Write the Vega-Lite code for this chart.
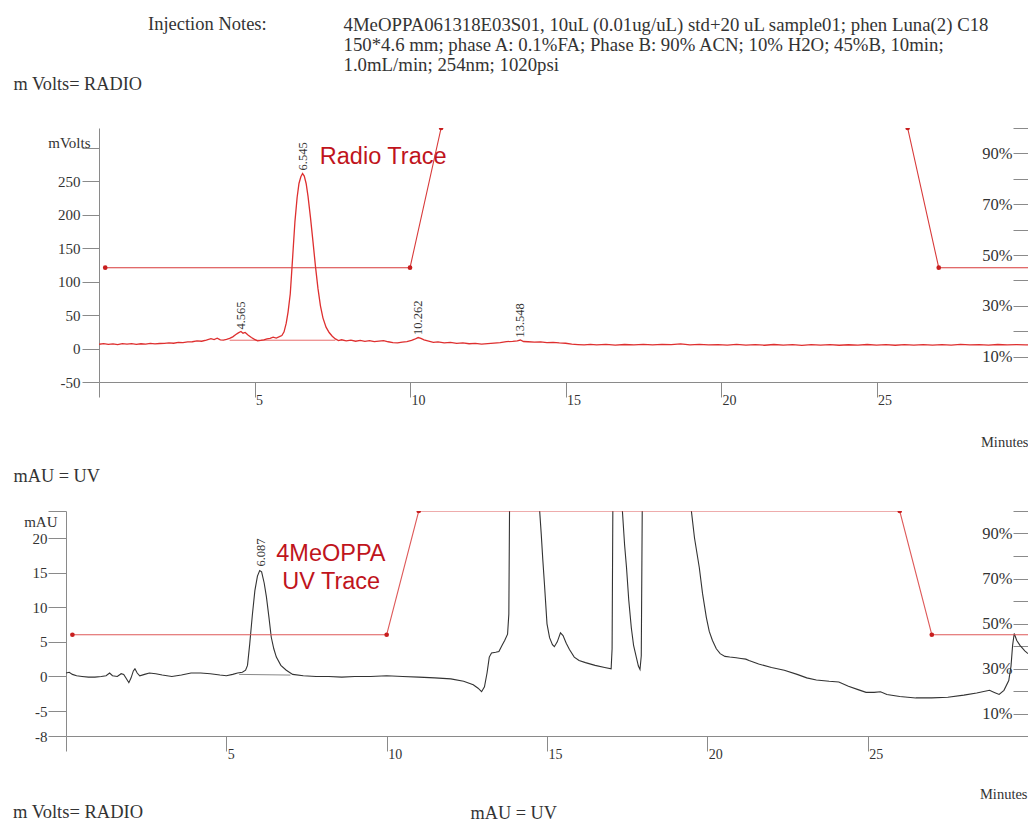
{
  "$schema": "https://vega.github.io/schema/vega-lite/v6.json",
  "padding": {"left": 13, "top": 14, "right": 0, "bottom": 0},
  "background": "white",
  "spacing": 17,
  "config": {
    "view": {"stroke": null},
    "font": "Liberation Serif",
    "axis": {
      "grid": false,
      "domainColor": "#8a8a8a",
      "tickColor": "#8a8a8a",
      "labelColor": "#333333",
      "labelFont": "Liberation Serif",
      "labelFontSize": 15,
      "titleFont": "Liberation Serif",
      "titleFontWeight": "normal",
      "titleColor": "#333333",
      "titleFontSize": 18.3,
      "labelOverlap": false,
      "labelFlush": false,
      "labelBound": false,
      "tickCount": 30
    },
    "title": {"font": "Liberation Serif", "fontWeight": "normal", "fontSize": 18.5, "color": "#333333"}
  },
  "datasets": {
    "radio": [
      {"t":0.0,"mv":6.5},{"t":0.15,"mv":7.4},{"t":0.3,"mv":6.2},{"t":0.45,"mv":7.1},{"t":0.6,"mv":6.0},{"t":0.75,"mv":7.3},{"t":0.9,"mv":6.6},{"t":1.05,"mv":7.5},{"t":1.2,"mv":6.4},{"t":1.35,"mv":7.2},{"t":1.5,"mv":6.8},{"t":1.65,"mv":7.8},{"t":1.8,"mv":6.9},{"t":1.95,"mv":7.6},{"t":2.1,"mv":7.9},{"t":2.25,"mv":8.6},{"t":2.4,"mv":8.0},{"t":2.55,"mv":9.2},{"t":2.7,"mv":8.8},{"t":2.85,"mv":9.9},{"t":3.0,"mv":10.2},{"t":3.15,"mv":11.5},{"t":3.3,"mv":11.0},{"t":3.45,"mv":12.8},{"t":3.6,"mv":14.8},{"t":3.7,"mv":13.5},{"t":3.8,"mv":15.5},{"t":3.9,"mv":13.0},{"t":4.0,"mv":12.6},{"t":4.1,"mv":13.8},{"t":4.2,"mv":15.2},{"t":4.3,"mv":17.5},{"t":4.4,"mv":21.0},{"t":4.48,"mv":23.5},{"t":4.565,"mv":25.5},{"t":4.63,"mv":23.0},{"t":4.7,"mv":24.2},{"t":4.8,"mv":20.0},{"t":4.9,"mv":16.5},{"t":5.0,"mv":13.8},{"t":5.1,"mv":11.6},{"t":5.2,"mv":12.2},{"t":5.3,"mv":13.0},{"t":5.4,"mv":14.6},{"t":5.5,"mv":15.2},{"t":5.6,"mv":17.0},{"t":5.7,"mv":15.8},{"t":5.8,"mv":17.8},{"t":5.88,"mv":19.5},{"t":5.95,"mv":25},{"t":6.02,"mv":38},{"t":6.08,"mv":55},{"t":6.15,"mv":82},{"t":6.22,"mv":132},{"t":6.3,"mv":190},{"t":6.37,"mv":226},{"t":6.43,"mv":247},{"t":6.49,"mv":257},{"t":6.545,"mv":262},{"t":6.6,"mv":258},{"t":6.66,"mv":247},{"t":6.72,"mv":228},{"t":6.8,"mv":196},{"t":6.88,"mv":160},{"t":6.96,"mv":123},{"t":7.04,"mv":90},{"t":7.12,"mv":64},{"t":7.2,"mv":46},{"t":7.3,"mv":32},{"t":7.4,"mv":24},{"t":7.5,"mv":18.5},{"t":7.6,"mv":14.5},{"t":7.7,"mv":12.0},{"t":7.8,"mv":13.2},{"t":7.95,"mv":11.5},{"t":8.1,"mv":12.6},{"t":8.25,"mv":11.0},{"t":8.4,"mv":12.2},{"t":8.55,"mv":10.8},{"t":8.7,"mv":11.8},{"t":8.85,"mv":10.5},{"t":9.0,"mv":11.2},{"t":9.15,"mv":12.0},{"t":9.3,"mv":10.2},{"t":9.45,"mv":9.0},{"t":9.6,"mv":8.4},{"t":9.75,"mv":9.6},{"t":9.9,"mv":10.5},{"t":10.05,"mv":12.2},{"t":10.15,"mv":14.0},{"t":10.262,"mv":16.5},{"t":10.35,"mv":15.2},{"t":10.45,"mv":13.0},{"t":10.6,"mv":11.2},{"t":10.75,"mv":9.4},{"t":10.9,"mv":10.0},{"t":11.1,"mv":8.6},{"t":11.3,"mv":9.2},{"t":11.5,"mv":7.8},{"t":11.7,"mv":8.4},{"t":11.9,"mv":7.2},{"t":12.1,"mv":7.8},{"t":12.3,"mv":6.8},{"t":12.5,"mv":7.4},{"t":12.7,"mv":8.2},{"t":12.9,"mv":9.0},{"t":13.1,"mv":10.4},{"t":13.3,"mv":10.8},{"t":13.45,"mv":11.5},{"t":13.548,"mv":12.8},{"t":13.65,"mv":10.6},{"t":13.8,"mv":10.2},{"t":14.0,"mv":9.6},{"t":14.2,"mv":9.9},{"t":14.4,"mv":9.0},{"t":14.6,"mv":9.4},{"t":14.8,"mv":8.5},{"t":15.0,"mv":8.0},{"t":15.2,"mv":6.8},{"t":15.4,"mv":6.0},{"t":15.6,"mv":5.4},{"t":15.8,"mv":6.2},{"t":16.0,"mv":5.6},{"t":16.3,"mv":6.3},{"t":16.6,"mv":5.2},{"t":16.9,"mv":6.1},{"t":17.2,"mv":5.5},{"t":17.5,"mv":6.2},{"t":17.8,"mv":5.4},{"t":18.1,"mv":6.4},{"t":18.4,"mv":5.8},{"t":18.7,"mv":6.9},{"t":19.0,"mv":5.6},{"t":19.3,"mv":6.3},{"t":19.6,"mv":5.4},{"t":19.9,"mv":6.0},{"t":20.2,"mv":5.1},{"t":20.5,"mv":6.2},{"t":20.8,"mv":5.3},{"t":21.1,"mv":5.9},{"t":21.4,"mv":5.0},{"t":21.7,"mv":6.1},{"t":22.0,"mv":5.2},{"t":22.3,"mv":5.8},{"t":22.6,"mv":4.9},{"t":22.9,"mv":5.9},{"t":23.2,"mv":5.1},{"t":23.5,"mv":6.0},{"t":23.8,"mv":5.0},{"t":24.1,"mv":5.7},{"t":24.4,"mv":5.2},{"t":24.7,"mv":6.1},{"t":25.0,"mv":5.3},{"t":25.3,"mv":5.9},{"t":25.6,"mv":5.0},{"t":25.9,"mv":5.8},{"t":26.2,"mv":5.2},{"t":26.5,"mv":6.0},{"t":26.8,"mv":5.3},{"t":27.1,"mv":5.9},{"t":27.4,"mv":5.1},{"t":27.7,"mv":6.2},{"t":28.0,"mv":5.4},{"t":28.3,"mv":6.0},{"t":28.6,"mv":5.2},{"t":28.9,"mv":6.1},{"t":29.2,"mv":5.5},{"t":29.5,"mv":6.0},{"t":29.8,"mv":5.4},{"t":29.9,"mv":5.7}
    ],
    "radioBase": [{"t":4.2,"mv":12.5},{"t":7.6,"mv":12.5}],
    "radioPeaks": [
      {"t":4.565,"mv":24,"label":"4.565"},
      {"t":6.545,"mv":262,"label":"6.545"},
      {"t":10.262,"mv":16,"label":"10.262"},
      {"t":13.548,"mv":12,"label":"13.548"}
    ],
    "uv": [
      {"t":0.0,"mau":0.5},{"t":0.1,"mau":0.6},{"t":0.2,"mau":0.3},{"t":0.33,"mau":0.1},{"t":0.5,"mau":0.0},{"t":0.7,"mau":-0.1},{"t":0.9,"mau":-0.1},{"t":1.1,"mau":0.0},{"t":1.25,"mau":0.1},{"t":1.36,"mau":0.5},{"t":1.45,"mau":0.1},{"t":1.6,"mau":0.0},{"t":1.72,"mau":0.4},{"t":1.8,"mau":0.3},{"t":1.88,"mau":-0.3},{"t":1.96,"mau":-0.9},{"t":2.03,"mau":-0.2},{"t":2.1,"mau":0.8},{"t":2.15,"mau":1.1},{"t":2.22,"mau":0.5},{"t":2.3,"mau":0.1},{"t":2.45,"mau":0.3},{"t":2.6,"mau":0.5},{"t":2.8,"mau":0.4},{"t":3.0,"mau":0.2},{"t":3.3,"mau":0.0},{"t":3.6,"mau":0.2},{"t":3.9,"mau":0.5},{"t":4.2,"mau":0.5},{"t":4.5,"mau":0.4},{"t":4.8,"mau":0.2},{"t":5.0,"mau":0.1},{"t":5.2,"mau":0.3},{"t":5.35,"mau":0.5},{"t":5.5,"mau":0.6},{"t":5.6,"mau":0.9},{"t":5.66,"mau":1.6},{"t":5.73,"mau":4.7},{"t":5.81,"mau":8.8},{"t":5.89,"mau":12.4},{"t":5.97,"mau":14.5},{"t":6.04,"mau":15.3},{"t":6.1,"mau":15.1},{"t":6.18,"mau":13.5},{"t":6.25,"mau":11.5},{"t":6.33,"mau":8.5},{"t":6.4,"mau":5.7},{"t":6.48,"mau":4.0},{"t":6.56,"mau":2.8},{"t":6.7,"mau":1.6},{"t":6.87,"mau":0.9},{"t":7.07,"mau":0.3},{"t":7.4,"mau":0.1},{"t":7.8,"mau":0.0},{"t":8.2,"mau":0.0},{"t":8.6,"mau":-0.1},{"t":9.0,"mau":0.0},{"t":9.5,"mau":0.0},{"t":10.0,"mau":0.1},{"t":10.5,"mau":0.0},{"t":11.0,"mau":-0.1},{"t":11.5,"mau":-0.2},{"t":12.0,"mau":-0.35},{"t":12.4,"mau":-0.7},{"t":12.7,"mau":-1.2},{"t":12.85,"mau":-1.7},{"t":12.96,"mau":-2.2},{"t":13.05,"mau":-1.5},{"t":13.13,"mau":0.5},{"t":13.2,"mau":2.8},{"t":13.27,"mau":3.4},{"t":13.4,"mau":3.5},{"t":13.5,"mau":3.6},{"t":13.6,"mau":4.5},{"t":13.68,"mau":5.2},{"t":13.77,"mau":6.1},{"t":13.81,"mau":9},{"t":13.84,"mau":30},{"t":13.87,"mau":80},{"t":14.7,"mau":80},{"t":14.77,"mau":24},{"t":14.82,"mau":20.6},{"t":14.87,"mau":16.8},{"t":14.92,"mau":13.4},{"t":15.0,"mau":7.6},{"t":15.08,"mau":5.6},{"t":15.17,"mau":4.6},{"t":15.23,"mau":4.3},{"t":15.32,"mau":5.0},{"t":15.42,"mau":6.3},{"t":15.5,"mau":5.9},{"t":15.6,"mau":4.8},{"t":15.7,"mau":3.9},{"t":15.85,"mau":2.8},{"t":16.0,"mau":2.3},{"t":16.2,"mau":2.0},{"t":16.5,"mau":1.6},{"t":16.8,"mau":1.3},{"t":17.0,"mau":1.1},{"t":17.03,"mau":4},{"t":17.06,"mau":30},{"t":17.1,"mau":80},{"t":17.3,"mau":80},{"t":17.35,"mau":24},{"t":17.42,"mau":19},{"t":17.48,"mau":15.7},{"t":17.55,"mau":11},{"t":17.63,"mau":7.0},{"t":17.7,"mau":4.5},{"t":17.79,"mau":2.7},{"t":17.85,"mau":1.5},{"t":17.9,"mau":1.0},{"t":17.94,"mau":3},{"t":17.97,"mau":24},{"t":18.0,"mau":80},{"t":19.45,"mau":80},{"t":19.5,"mau":24},{"t":19.6,"mau":20},{"t":19.75,"mau":15.7},{"t":19.85,"mau":12},{"t":19.97,"mau":8.5},{"t":20.06,"mau":6.5},{"t":20.16,"mau":5.2},{"t":20.28,"mau":4.0},{"t":20.4,"mau":3.3},{"t":20.55,"mau":2.9},{"t":20.7,"mau":2.8},{"t":20.9,"mau":2.7},{"t":21.05,"mau":2.6},{"t":21.2,"mau":2.5},{"t":21.3,"mau":2.3},{"t":21.6,"mau":1.8},{"t":22.0,"mau":1.3},{"t":22.4,"mau":0.9},{"t":22.8,"mau":0.3},{"t":23.1,"mau":-0.2},{"t":23.4,"mau":-0.5},{"t":23.8,"mau":-0.7},{"t":24.1,"mau":-0.8},{"t":24.4,"mau":-1.4},{"t":24.7,"mau":-1.9},{"t":24.95,"mau":-2.3},{"t":25.2,"mau":-2.3},{"t":25.4,"mau":-2.2},{"t":25.6,"mau":-2.6},{"t":26.0,"mau":-2.9},{"t":26.5,"mau":-3.1},{"t":27.0,"mau":-3.1},{"t":27.5,"mau":-3.0},{"t":28.0,"mau":-2.7},{"t":28.4,"mau":-2.4},{"t":28.8,"mau":-2.0},{"t":28.95,"mau":-2.3},{"t":29.1,"mau":-2.6},{"t":29.25,"mau":-2.0},{"t":29.4,"mau":-0.6},{"t":29.47,"mau":1.5},{"t":29.52,"mau":4.5},{"t":29.57,"mau":6.2},{"t":29.65,"mau":5.2},{"t":29.75,"mau":4.5},{"t":29.9,"mau":3.7},{"t":30.0,"mau":3.3}
    ],
    "uvBase": [{"t":5.4,"mau":0.3},{"t":7.0,"mau":0.2}],
    "uvPeaks": [{"t":6.087,"mau":15.3,"label":"6.087"}],
    "gradient": [
      {"t":0.2,"b":45},{"t":10,"b":45},{"t":11,"b":100},{"t":26,"b":100},{"t":27,"b":45},{"t":30,"b":45}
    ]
  },
  "vconcat": [
    {
      "width": 962,
      "height": 254,
      "title": {"text": "Injection Notes:", "anchor": "start", "frame": "group", "dx": 82, "offset": -18},
      "layer": [
        {
          "layer": [
            {
              "data": {"name": "radio"},
              "mark": {"type": "line", "color": "#de2f2f", "strokeWidth": 1.3, "clip": true},
              "encoding": {
                "x": {
                  "field": "t", "type": "quantitative",
                  "scale": {"domain": [0, 29.87], "range": [33, 962], "nice": false, "zero": false},
                  "axis": {
                    "values": [0, 5, 10, 15, 20, 25],
                    "labelExpr": "datum.value == 0 ? '' : '' + datum.value",
                    "tickSize": 15,
                    "labelAlign": "left",
                    "labelBaseline": "top",
                    "labelPadding": -4,
                    "labelOffset": 1,
                    "labelFontSize": 14,
                    "title": "Minutes",
                    "titleFontSize": 14.5,
                    "titleX": 962,
                    "titleY": 60,
                    "titleAlign": "right",
                    "titleBaseline": "middle"
                  }
                },
                "y": {
                  "field": "mv", "type": "quantitative",
                  "scale": {"domain": [-50, 330], "nice": false, "zero": false},
                  "axis": {
                    "orient": "left",
                    "offset": -33,
                    "values": [-50, 0, 50, 100, 150, 200, 250, 300],
                    "labelExpr": "datum.value == 300 ? 'mVolts' : '' + datum.value",
                    "tickSize": 17,
                    "labelPadding": {"condition": {"test": "datum.value == 300", "value": -8}, "value": 2},
                    "labelOffset": {"condition": {"test": "datum.value == 300", "value": -6}, "value": 0},
                    "title": "m Volts= RADIO",
                    "titleAngle": 0,
                    "titleAlign": "left",
                    "titleBaseline": "middle",
                    "titleX": -86,
                    "titleY": -44
                  }
                }
              }
            },
            {
              "data": {"name": "radioBase"},
              "mark": {"type": "line", "color": "#de2f2f", "strokeWidth": 0.7},
              "encoding": {"x": {"field": "t", "type": "quantitative"}, "y": {"field": "mv", "type": "quantitative"}}
            },
            {
              "data": {"name": "radioPeaks"},
              "mark": {"type": "text", "angle": 270, "align": "left", "baseline": "middle", "dx": 3, "fontSize": 12.5, "font": "Liberation Serif", "color": "#333333"},
              "encoding": {"x": {"field": "t", "type": "quantitative"}, "y": {"field": "mv", "type": "quantitative"}, "text": {"field": "label"}}
            },
            {
              "data": {"values": [{}]},
              "mark": {"type": "text", "text": "Radio Trace", "font": "Liberation Sans", "fontSize": 23.5, "color": "#c0141c", "align": "left", "baseline": "middle"},
              "encoding": {"x": {"datum": 7.1}, "y": {"datum": 286}}
            }
          ]
        },
        {
          "data": {"name": "gradient"},
          "layer": [
            {
              "transform": [{"filter": "datum.t <= 11"}],
              "mark": {"type": "line", "color": "#d83a3a", "strokeWidth": 1.1, "clip": true},
              "encoding": {
                "x": {"field": "t", "type": "quantitative"},
                "y": {
                  "field": "b", "type": "quantitative",
                  "scale": {"domain": [0, 100], "nice": false, "zero": false},
                  "axis": {
                    "orient": "right",
                    "values": [10, 20, 30, 40, 50, 60, 70, 80, 90, 100],
                    "labelExpr": "datum.value % 20 == 10 ? datum.value + '%' : ''",
                    "tickSize": -15,
                    "labelAlign": "right",
                    "labelBaseline": "middle",
                    "labelPadding": -1,
                    "labelFontSize": 16.5,
                    "domain": false,
                    "title": ["4MeOPPA061318E03S01, 10uL (0.01ug/uL) std+20 uL sample01; phen Luna(2) C18", "150*4.6 mm;  phase A: 0.1%FA; Phase B: 90% ACN; 10% H2O; 45%B, 10min;", "1.0mL/min; 254nm; 1020psi"],
                    "titleAngle": 0,
                    "titleAlign": "left",
                    "titleBaseline": "middle",
                    "titleLineHeight": 20,
                    "titleFontSize": 18.8,
                    "titleX": -685,
                    "titleY": -104
                  }
                }
              }
            },
            {
              "transform": [{"filter": "datum.t >= 26"}],
              "mark": {"type": "line", "color": "#d83a3a", "strokeWidth": 1.1, "clip": true},
              "encoding": {"x": {"field": "t", "type": "quantitative"}, "y": {"field": "b", "type": "quantitative"}}
            },
            {
              "transform": [{"filter": "datum.t < 29"}],
              "mark": {"type": "point", "filled": true, "color": "#c81e1e", "size": 22, "opacity": 1, "clip": true},
              "encoding": {"x": {"field": "t", "type": "quantitative"}, "y": {"field": "b", "type": "quantitative"}}
            }
          ]
        }
      ],
      "resolve": {"scale": {"y": "independent"}}
    },
    {
      "width": 962,
      "height": 225,
      "title": {"text": "m Volts= RADIO", "orient": "bottom", "anchor": "start", "frame": "group", "dx": -53, "offset": -18},
      "layer": [
        {
          "layer": [
            {
              "data": {"name": "uv"},
              "mark": {"type": "line", "color": "#333333", "strokeWidth": 1.1, "clip": true},
              "encoding": {
                "x": {
                  "field": "t", "type": "quantitative",
                  "scale": {"domain": [0, 30], "nice": false, "zero": false},
                  "axis": {
                    "values": [0, 5, 10, 15, 20, 25],
                    "labelExpr": "datum.value == 0 ? '' : '' + datum.value",
                    "tickSize": 15,
                    "labelAlign": "left",
                    "labelBaseline": "top",
                    "labelPadding": -4,
                    "labelOffset": 1,
                    "labelFontSize": 14,
                    "title": "Minutes",
                    "titleFontSize": 14.5,
                    "titleX": 961,
                    "titleY": 58,
                    "titleAlign": "right",
                    "titleBaseline": "middle"
                  }
                },
                "y": {
                  "field": "mau", "type": "quantitative",
                  "scale": {"domain": [-8.6, 23.9], "nice": false, "zero": false},
                  "axis": {
                    "orient": "left",
                    "values": [-8.6, -5, 0, 5, 10, 15, 20, 23.9],
                    "labelExpr": "datum.value < -8 ? '-8' : datum.value > 23 ? 'mAU' : '' + datum.value",
                    "tickSize": 18,
                    "labelPadding": {"condition": {"test": "datum.value > 23", "value": -9}, "value": 1},
                    "labelOffset": {"condition": {"test": "datum.value > 23", "value": 10}, "value": 0},
                    "title": "mAU = UV",
                    "titleAngle": 0,
                    "titleAlign": "left",
                    "titleBaseline": "middle",
                    "titleX": -53,
                    "titleY": -35
                  }
                }
              }
            },
            {
              "data": {"name": "uvBase"},
              "mark": {"type": "line", "color": "#555555", "strokeWidth": 0.7},
              "encoding": {"x": {"field": "t", "type": "quantitative"}, "y": {"field": "mau", "type": "quantitative"}}
            },
            {
              "data": {"name": "uvPeaks"},
              "mark": {"type": "text", "angle": 270, "align": "left", "baseline": "middle", "dx": 4, "fontSize": 12.5, "font": "Liberation Serif", "color": "#333333"},
              "encoding": {"x": {"field": "t", "type": "quantitative"}, "y": {"field": "mau", "type": "quantitative"}, "text": {"field": "label"}}
            },
            {
              "data": {"values": [{}]},
              "mark": {"type": "text", "text": "4MeOPPA", "font": "Liberation Sans", "fontSize": 23.5, "color": "#c0141c", "align": "center", "baseline": "middle"},
              "encoding": {"x": {"datum": 8.26}, "y": {"datum": 17.7}}
            },
            {
              "data": {"values": [{}]},
              "mark": {"type": "text", "text": "UV Trace", "font": "Liberation Sans", "fontSize": 23.5, "color": "#c0141c", "align": "center", "baseline": "middle"},
              "encoding": {"x": {"datum": 8.27}, "y": {"datum": 13.7}}
            }
          ]
        },
        {
          "data": {"name": "gradient"},
          "layer": [
            {
              "mark": {"type": "line", "color": "#de5a5a", "strokeWidth": 1.1, "clip": true},
              "encoding": {
                "x": {"field": "t", "type": "quantitative"},
                "y": {
                  "field": "b", "type": "quantitative",
                  "scale": {"domain": [0, 100], "nice": false, "zero": false},
                  "axis": {
                    "orient": "right",
                    "values": [10, 20, 30, 40, 50, 60, 70, 80, 90, 100],
                    "labelExpr": "datum.value % 20 == 10 ? datum.value + '%' : ''",
                    "tickSize": -15,
                    "labelAlign": "right",
                    "labelBaseline": "middle",
                    "labelPadding": -1,
                    "labelFontSize": 16.5,
                    "domain": false,
                    "title": "mAU = UV",
                    "titleAngle": 0,
                    "titleAlign": "left",
                    "titleBaseline": "middle",
                    "titleX": -558,
                    "titleY": 302
                  }
                }
              }
            },
            {
              "transform": [{"filter": "datum.t < 29"}],
              "mark": {"type": "point", "filled": true, "color": "#c81e1e", "size": 22, "opacity": 1, "clip": true},
              "encoding": {"x": {"field": "t", "type": "quantitative"}, "y": {"field": "b", "type": "quantitative"}}
            }
          ]
        }
      ],
      "resolve": {"scale": {"y": "independent"}}
    }
  ]
}
